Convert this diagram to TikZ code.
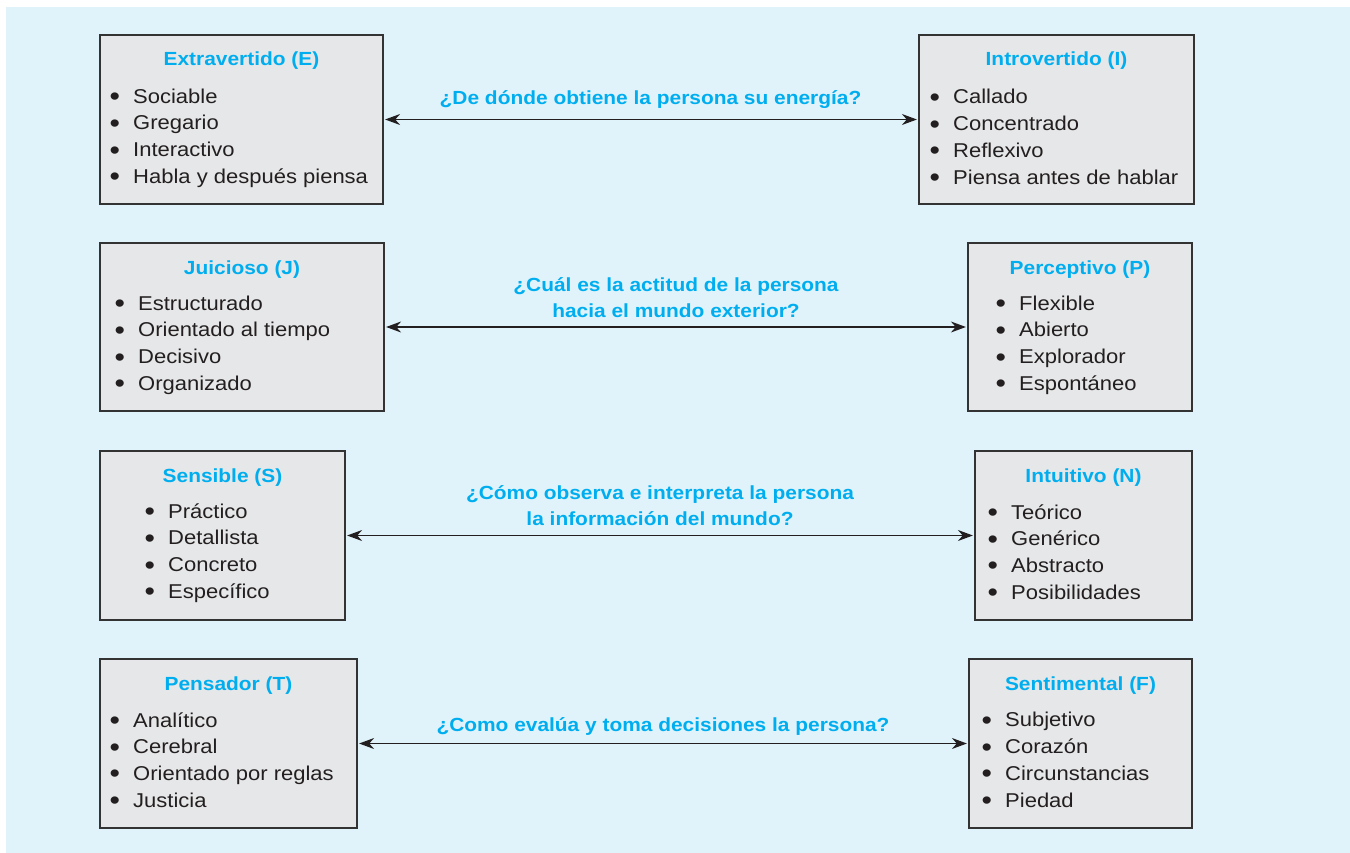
\documentclass[tikz,border=0pt]{standalone}
\usepackage{fontspec}
\setmainfont[FakeStretch=1.1]{Liberation Sans}
\usetikzlibrary{arrows.meta}
\definecolor{bg}{HTML}{E0F3FB}
\definecolor{boxfill}{HTML}{E6E7E8}
\definecolor{cyanT}{HTML}{00AEEF}
\definecolor{edge}{HTML}{333333}
\definecolor{txt}{HTML}{231F20}
\newcommand\bx[5]{\node[box, minimum width={#4-#2}, minimum height={#5-#3}] (#1) at ({(#2+#4)/2},{(#3+#5)/2}) {};}
\newcommand\itm[1]{\makebox[23.5pt][l]{\raisebox{-2.5pt}{\fontsize{27}{0}\selectfont\textbullet}}#1}
\begin{document}
\begin{tikzpicture}[x=1pt,y=-1pt,
 box/.style={draw=edge, fill=boxfill, line width=1.2pt, inner sep=0pt, rectangle},
 ttl/.style={font=\fontsize{19}{23}\selectfont\bfseries, text=cyanT, inner sep=0pt},
 lst/.style={font=\fontsize{20}{26.7}\selectfont, text=txt, align=left, inner sep=0pt, anchor=west},
 qst/.style={font=\fontsize{19}{26}\selectfont\bfseries, text=cyanT, align=center, inner sep=0pt},
 link/.style={{Stealth[length=15pt,width=11pt]}-{Stealth[length=15pt,width=11pt]}, line width=1.4pt, draw=txt, shorten <=1.5pt, shorten >=1.5pt}]
\useasboundingbox (0,0) rectangle (1350,853);
\fill[bg] (6,7) rectangle (1350,853);
% boxes
\bx{E}{100}{35}{383}{204}
\bx{I}{919}{35}{1194}{204}
\bx{J}{100}{243}{384}{411}
\bx{P}{968}{243}{1192}{411}
\bx{S}{100}{451}{345}{620}
\bx{N}{975}{451}{1192}{620}
\bx{T}{100}{659}{357}{828}
\bx{F}{969}{659}{1192}{828}
% titles
\node[ttl] (tE) at (241.5,61) {Extravertido (E)};
\node[ttl] (tI) at (1056.5,61) {Introvertido (I)};
\node[ttl] (tJ) at (242,270) {Juicioso (J)};
\node[ttl] (tP) at (1080,270) {Perceptivo (P)};
\node[ttl] (tS) at (222.5,478) {Sensible (S)};
\node[ttl] (tN) at (1083.5,478) {Intuitivo (N)};
\node[ttl] (tT) at (228.5,686) {Pensador (T)};
\node[ttl] (tF) at (1080.5,686) {Sentimental (F)};
% lists
\node[lst] (lE) at (109.5,138) {\itm{Sociable}\\\itm{Gregario}\\\itm{Interactivo}\\\itm{Habla y después piensa}};
\node[lst] (lI) at (929.5,138) {\itm{Callado}\\\itm{Concentrado}\\\itm{Reflexivo}\\\itm{Piensa antes de hablar}};
\node[lst] (lJ) at (114.5,345) {\itm{Estructurado}\\\itm{Orientado al tiempo}\\\itm{Decisivo}\\\itm{Organizado}};
\node[lst] (lP) at (995.5,345) {\itm{Flexible}\\\itm{Abierto}\\\itm{Explorador}\\\itm{Espontáneo}};
\node[lst] (lS) at (144.5,553) {\itm{Práctico}\\\itm{Detallista}\\\itm{Concreto}\\\itm{Específico}};
\node[lst] (lN) at (987.5,553) {\itm{Teórico}\\\itm{Genérico}\\\itm{Abstracto}\\\itm{Posibilidades}};
\node[lst] (lT) at (109.5,761) {\itm{Analítico}\\\itm{Cerebral}\\\itm{Orientado por reglas}\\\itm{Justicia}};
\node[lst] (lF) at (981.5,761) {\itm{Subjetivo}\\\itm{Corazón}\\\itm{Circunstancias}\\\itm{Piedad}};
% questions
\node[qst] (q1) at (650.5,100) {¿De dónde obtiene la persona su energía?};
\node[qst] (q2) at (676,298) {¿Cuál es la actitud de la persona\\hacia el mundo exterior?};
\node[qst] (q3) at (660,506) {¿Cómo observa e interpreta la persona\\la información del mundo?};
\node[qst] (q4) at (663,726) {¿Como evalúa y toma decisiones la persona?};
% connectors
\draw[link] (E) -- (I);
\draw[link] (J) -- (P);
\draw[link] (S) -- (N);
\draw[link] (T) -- (F);
\end{tikzpicture}
\end{document}
